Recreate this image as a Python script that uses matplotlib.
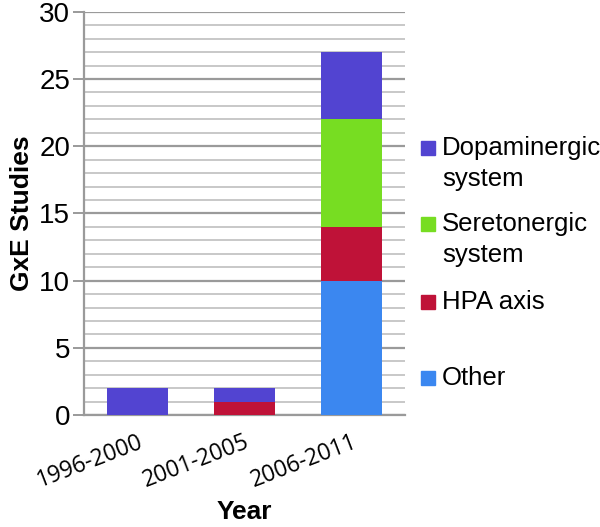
import matplotlib.pyplot as plt
from matplotlib.patches import Rectangle

years = ["1996-2000", "2001-2005", "2006-2011"]
other = [0, 0, 10]
hpa = [0, 1, 4]
serotonergic = [0, 0, 8]
dopaminergic = [2, 1, 5]

series = [
    ("Other", other, "#3b87f0"),
    ("HPA axis", hpa, "#bf1238"),
    ("Seretonergic\nsystem", serotonergic, "#77dd22"),
    ("Dopaminergic\nsystem", dopaminergic, "#5244d1"),
]

fig = plt.figure(figsize=(6, 5.27), dpi=100)
ax = fig.add_axes([0.14, 0.2125, 0.535, 0.765])

x = list(range(len(years)))
bottom = [0] * len(years)
for name, vals, color in series:
    ax.bar(x, vals, width=0.57, bottom=bottom, color=color, zorder=3)
    bottom = [b + v for b, v in zip(bottom, vals)]

ax.set_xlim(-0.5, 2.5)
ax.set_ylim(0, 30)
ax.set_yticks(range(0, 31, 5))
ax.set_yticks(range(0, 31), minor=True)
ax.grid(axis="y", which="minor", color="#c4c4c4", lw=1.3, zorder=0)
ax.grid(axis="y", which="major", color="#9a9a9a", lw=1.6, zorder=1)
ax.tick_params(axis="y", which="major", length=8, width=1.4, color="#9a9a9a",
               labelsize=20, pad=2)
ax.tick_params(axis="y", which="minor", length=0)
ax.tick_params(axis="x", length=0, pad=11)
for s in ["top", "right"]:
    ax.spines[s].set_visible(False)
for s in ["left", "bottom"]:
    ax.spines[s].set_color("#9a9a9a")
    ax.spines[s].set_linewidth(1.6)
for lab in ax.get_yticklabels():
    lab.set_family("Liberation Sans")

ax.set_xticks(x)
ax.set_xticklabels(years, rotation=21, ha="right", rotation_mode="anchor",
                   fontsize=16.5, family="Open Sans")

ax.set_ylabel("GxE Studies", fontsize=19, fontweight="heavy", family="Liberation Sans", labelpad=4)
ax.set_xlabel("Year", fontsize=19, fontweight="heavy", family="Liberation Sans", labelpad=5)

# legend drawn by hand, top entry first
W, H = 600, 527
rows = [148, 224, 302, 378]
for (name, vals, color), yc in zip(series[::-1], rows):
    fig.patches.append(Rectangle((421 / W, (H - yc - 7) / H), 14 / W, 14 / H,
                                 transform=fig.transFigure, color=color))
    for i, line in enumerate(name.split("\n")):
        fig.text(442 / W, (H - yc - i * 31) / H, line, va="center", ha="left",
                 fontsize=18.5, family="Liberation Sans")

fig.savefig("out.png", dpi=100)
